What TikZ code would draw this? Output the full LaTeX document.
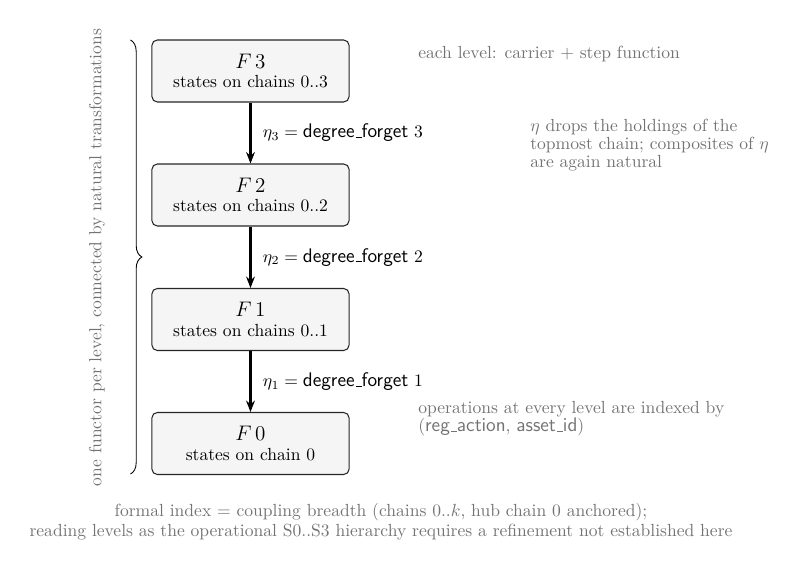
\documentclass[tikz,border=0pt]{standalone}
\usetikzlibrary{arrows.meta,decorations.pathreplacing}
\newcommand{\usc}{\leavevmode\kern.06em\vbox{\hrule width.3em}}
\newcommand{\sfw}[1]{\textsf{\fontsize{11.2}{10.3}\selectfont #1}}
\newcommand{\degf}[1]{\sfw{degree\usc forget}\ #1}
\begin{document}
\begin{tikzpicture}[x=0.5698pt,y=-0.5698pt,
  lvl/.style={draw=black!85, line width=0.6pt, fill=black!4, rounded corners=3pt,
    minimum width=112.3pt, minimum height=35.3pt, inner sep=0pt, align=center},
  arr/.style={-{Stealth[length=6.5pt,width=5pt]}, line width=1.2pt},
  note/.style={text=black!55, align=left, font=\fontsize{10}{10.3}\selectfont, inner sep=0pt},
  lab/.style={midway, anchor=west, xshift=6.5pt, inner sep=0pt}]
\useasboundingbox (0,0) rectangle (798,569);
\node[lvl] (f3) at (250.5,71) {{\large $F\,3$}\\[-1pt] states on chains 0..3};
\node[lvl] (f2) at (250.5,195) {{\large $F\,2$}\\[-1pt] states on chains 0..2};
\node[lvl] (f1) at (250.5,319.5) {{\large $F\,1$}\\[-1pt] states on chains 0..1};
\node[lvl] (f0) at (250.5,443.5) {{\large $F\,0$}\\[-1pt] states on chain 0};
\draw[arr] (f3) -- (f2) node[lab] {$\eta_3 = \degf{3}$};
\draw[arr] (f2) -- (f1) node[lab] {$\eta_2 = \degf{2}$};
\draw[arr] (f1) -- (f0) node[lab] {$\eta_1 = \degf{1}$};
\node[note, anchor=west] (n1) at (418,54) {each level: carrier + step function};
\node[note, anchor=west] (n2) at (530,145) {$\eta$ drops the holdings of the\\topmost chain; composites of $\eta$\\are again natural};
\node[note, anchor=west] (n3) at (418,419) {operations at every level are indexed by\\(\sfw{reg\usc action},\ \sfw{asset\usc id})};
\coordinate (bt) at (130.5,40);
\coordinate (bb) at (130.5,474);
\draw[decorate, decoration={brace, amplitude=6.5pt}, line width=0.5pt] (bt) -- (bb);
\node[note, rotate=90, anchor=center] (side) at (97,257.5) {one functor per level, connected by natural transformations};
\node[note, align=center, font=\fontsize{10}{11.4}\selectfont] (cap) at (381,522) {formal index = coupling breadth (chains 0..$k$, hub chain 0 anchored);\\reading levels as the operational S0..S3 hierarchy requires a refinement not established here};
\end{tikzpicture}
\end{document}
